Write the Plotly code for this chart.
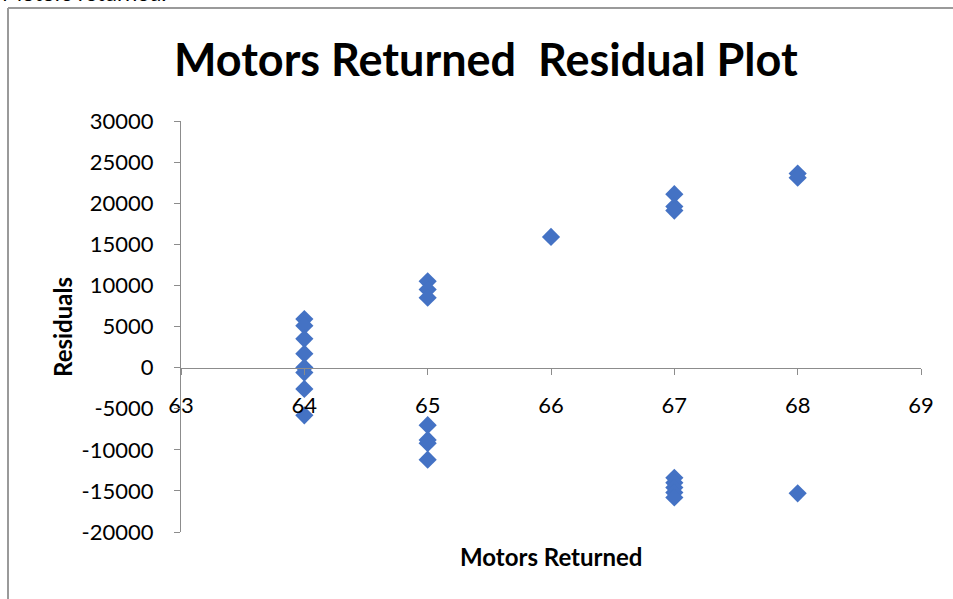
import plotly.graph_objects as go

# Data
motors_returned = [64, 64, 64, 64, 64, 64, 64, 64,
                   65, 65, 65, 65, 65, 65, 65,
                   66,
                   67, 67, 67, 67, 67, 67, 67, 67,
                   68, 68, 68]
residuals = [5900, 5100, 3500, 1700, 0, -600, -2600, -5800,
             10500, 9500, 8500, -7000, -8800, -9200, -11200,
             15900,
             21100, 19600, 19100, -13400, -14000, -14600, -15200, -15800,
             23600, 23100, -15300]

x_ticks = [63, 64, 65, 66, 67, 68, 69]
y_ticks = [30000, 25000, 20000, 15000, 10000, 5000, 0, -5000, -10000, -15000, -20000]
y_tick_text = [str(v) for v in y_ticks]

FONT = "Lato"
L, R, T, B = 181, 32, 121, 67
W, H = 953, 599
pw, ph = W - L - R, H - T - B

def px_x(p):
    return (p - L) / pw

def px_y(p):
    return (H - B - p) / ph

fig = go.Figure()
fig.add_trace(go.Scatter(
    x=motors_returned, y=residuals, mode="markers",
    marker=dict(symbol="diamond", size=14, color="#4472C4",
                line=dict(width=0)),
    showlegend=False, hoverinfo="x+y"))

fig.update_layout(
    width=W, height=H,
    margin=dict(l=L, r=R, t=T, b=B),
    paper_bgcolor="white", plot_bgcolor="white",
    font=dict(family=FONT, color="#000000", size=22),
    xaxis=dict(range=[63, 69], tickvals=x_ticks, showgrid=False, zeroline=False,
               showline=True, linecolor="#8c8c8c", linewidth=1,
               ticks="outside", ticklen=6, tickcolor="#8c8c8c",
               anchor="free", position=0.4, ticklabelstandoff=12,
               tickfont=dict(size=22, family=FONT)),
    yaxis=dict(range=[-20000, 30000], tickvals=y_ticks, ticktext=y_tick_text,
               showgrid=False, zeroline=False,
               showline=True, linecolor="#8c8c8c", linewidth=1,
               ticks="outside", ticklen=6, tickcolor="#8c8c8c",
               ticklabelstandoff=16, tickfont=dict(size=22, family=FONT)),
    shapes=[
        dict(type="line", xref="paper", yref="paper",
             x0=px_x(8), x1=px_x(1000), y0=px_y(8), y1=px_y(8),
             line=dict(color="#9a9a9a", width=2)),
        dict(type="line", xref="paper", yref="paper",
             x0=px_x(8), x1=px_x(8), y0=px_y(8), y1=px_y(620),
             line=dict(color="#9a9a9a", width=2)),
    ],
    annotations=[
        dict(text="<b>Motors Returned  Residual Plot</b>", xref="paper", yref="paper",
             x=px_x(486), y=px_y(59), showarrow=False, xanchor="center", yanchor="middle",
             font=dict(size=45, family=FONT, color="#000000")),
        dict(text="<b>Residuals</b>", xref="paper", yref="paper",
             x=px_x(62), y=px_y(327), showarrow=False, textangle=-90,
             xanchor="center", yanchor="middle",
             font=dict(size=24, family=FONT, color="#000000")),
        dict(text="<b>Motors Returned</b>", xref="paper", yref="paper",
             x=px_x(551), y=px_y(556), showarrow=False,
             xanchor="center", yanchor="middle",
             font=dict(size=24, family=FONT, color="#000000")),
        dict(text="Motors returned.", xref="paper", yref="paper",
             x=px_x(0), y=px_y(8), showarrow=False,
             xanchor="left", yanchor="bottom",
             font=dict(size=22, family=FONT, color="#000000")),
    ],
)

fig.write_html("out.html", config={"displayModeBar": False},
               post_script="document.body.style.margin='0';")
